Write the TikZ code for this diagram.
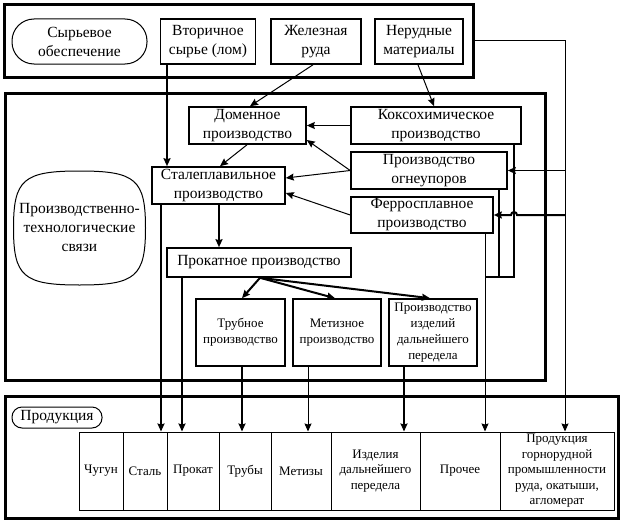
\documentclass[tikz,border=0pt]{standalone}
\usepackage{fontspec}
\setmainfont{Liberation Serif}
\newfontfamily\rf{Liberation Serif}
\usetikzlibrary{arrows.meta}
\begin{document}
\begin{tikzpicture}[x=1pt,y=-1pt,
  box/.style={draw, line width=1.6pt, inner sep=1pt, align=center, font=\rf\fontsize{15.5}{19}\selectfont},
  sbox/.style={draw, line width=1.6pt, inner sep=1pt, align=center, font=\rf\fontsize{13}{16}\selectfont},
  cell/.style={draw, line width=1pt, inner sep=1pt, align=center, minimum height=78pt, font=\rf\fontsize{13}{15.5}\selectfont},
  frame/.style={draw, line width=3pt, inner sep=0pt},
  pill/.style={draw, line width=1pt, align=center, font=\rf\fontsize{15.5}{19}\selectfont},
  txt/.style={align=center, inner sep=0pt, font=\rf\fontsize{15.5}{19}\selectfont},
  arr/.style={-{Stealth[length=8pt,width=7pt,inset=1pt]}, line width=1pt},
  tarr/.style={-{Stealth[length=8pt,width=7pt,inset=1pt]}, line width=2pt},
  thn/.style={line width=1pt},
  thk/.style={line width=2pt}]
\useasboundingbox[fill=white] (0,0) rectangle (623,527);
% frames
\node[frame, minimum width=469pt, minimum height=73pt] (F1) at (239,41) {};
\node[frame, minimum width=540pt, minimum height=287pt] (F2) at (275,236.5) {};
\node[frame, minimum width=613pt, minimum height=122pt] (F3) at (311.5,457) {};
% top row
\node[pill, rounded corners=22pt, minimum width=135pt, minimum height=45pt] (syr) at (79.5,41.5) {Сырьевое\\обеспечение};
\node[box, minimum width=95pt, minimum height=45pt] (vtor) at (208,41.5) {Вторичное\\сырье (лом)};
\node[box, minimum width=90pt, minimum height=45pt] (zhel) at (316,41.5) {Железная\\руда};
\node[box, minimum width=88pt, minimum height=45pt] (nerud) at (419,41.5) {Нерудные\\материалы};
% middle
\node[box, minimum width=117pt, minimum height=37pt] (dom) at (247.5,125.5) {Доменное\\производство};
\node[box, minimum width=170pt, minimum height=37pt] (koks) at (436,125.5) {Коксохимическое\\производство};
\node[box, minimum width=156pt, minimum height=37pt] (ogn) at (429,170.5) {Производство\\огнеупоров};
\node[box, minimum width=142pt, minimum height=36pt] (ferro) at (422,215) {Ферросплавное\\производство};
\node[box, minimum width=133pt, minimum height=37pt] (stal) at (218.5,185.5) {Сталеплавильное\\производство};
\draw[line width=1pt] (79.5,171) .. controls (135.6,171) and (145.5,179.5) .. (145.5,228)
  .. controls (145.5,276.5) and (135.6,285) .. (79.5,285)
  .. controls (23.4,285) and (13.5,276.5) .. (13.5,228)
  .. controls (13.5,179.5) and (23.4,171) .. cycle;
\node[txt] (ptsv) at (79.5,227) {Производственно-\\технологические\\связи};
\node[box, minimum width=184pt, minimum height=29pt] (prok) at (259,262.5) {Прокатное производство};
\node[sbox, minimum width=89pt, minimum height=67pt] (trub) at (240.5,332.5) {Трубное\\производство};
\node[sbox, minimum width=88pt, minimum height=67pt] (met) at (337,332.5) {Метизное\\производство};
\node[sbox, minimum width=88pt, minimum height=67pt] (izd) at (433,332.5) {Производство\\изделий\\дальнейшего\\передела};
% bottom
\node[pill, rounded corners=10pt, minimum width=90pt, minimum height=21pt, inner sep=1pt] (prodl) at (57,417.5) {Продукция};
\node[cell, minimum width=44pt] (c1) at (101,471) {Чугун};
\node[cell, minimum width=44pt] (c2) at (145,471) {Сталь};
\node[cell, minimum width=52pt] (c3) at (193,471) {Прокат};
\node[cell, minimum width=52pt] (c4) at (245,471) {Трубы};
\node[cell, minimum width=60pt] (c5) at (301,471) {Метизы};
\node[cell, minimum width=89pt] (c6) at (375.5,471) {Изделия\\дальнейшего\\передела};
\node[cell, minimum width=80pt] (c7) at (460,471) {Прочее};
\node[cell, minimum width=114pt] (c8) at (557,471) {Продукция\\горнорудной\\промышленности\\руда, окатыши,\\агломерат};
% connectors
\draw[tarr] (167,0 |- vtor.south) -- (167,0 |- stal.north);
\draw[arr] (313,0 |- zhel.south) -- (250,0 |- dom.north);
\draw[arr] (418,0 |- nerud.south) -- (434,0 |- koks.north);
\draw[arr] (247,0 |- dom.south) -- (220,0 |- stal.north);
\draw[arr] (koks.west) -- (dom.east);
\draw[arr] (ogn.west) -- (dom.east |- 0,140);
\draw[arr] (ogn.west) -- (stal.east |- 0,178);
\draw[arr] (ferro.west) -- (stal.east |- 0,193);
\draw[tarr] (219,0 |- stal.south) -- (219,0 |- prok.north);
\coordinate (pk) at (260,0 |- prok.south);
\draw[tarr] (pk) -- (242,0 |- trub.north);
\draw[tarr] (pk) -- (335,0 |- met.north);
\draw[tarr] (pk) -- (430,0 |- izd.north);
% to products
\draw[tarr] (161,0 |- stal.south) -- (161,0 |- c2.north);
\draw[tarr] (182,0 |- prok.south) -- (182,0 |- c3.north);
\draw[tarr] (242,0 |- trub.south) -- (242,0 |- c4.north);
\draw[arr] (308,0 |- met.south) -- (308,0 |- c5.north);
\draw[tarr] (404,0 |- izd.south) -- (404,0 |- c6.north);
\draw[arr] (485,0 |- ferro.south) -- (485,0 |- c7.north);
\coordinate (jn) at (485,277);
\draw[thk] (514,0 |- koks.south) |- (jn);
\draw[thk] (499,0 |- ogn.south) -- (499,277);
% nerudnye line
\coordinate (nr) at (565,0 |- F1.east);
\draw[arr] (F1.east) -- (nr) -- (565,0 |- c8.north);
\draw[arr] (565,0 |- ogn.east) -- (ogn.east);
\draw[tarr] (565,0 |- ferro.east) -- (517,0 |- ferro.east) arc[start angle=0, end angle=180, radius=3pt] -- (ferro.east);
\end{tikzpicture}
\end{document}
